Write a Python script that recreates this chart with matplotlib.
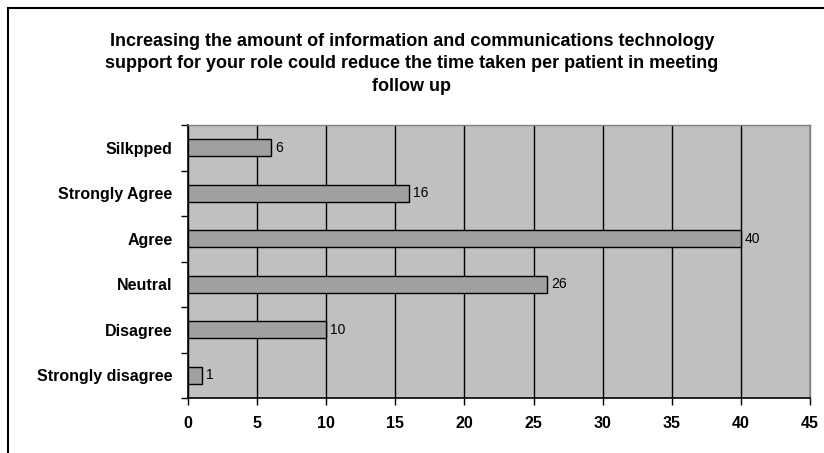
from matplotlib import pyplot as plt
from matplotlib.patches import Rectangle
import numpy as np

categories = ["Strongly disagree", "Disagree", "Neutral", "Agree", "Strongly Agree", "Silkpped"]
counts = [1, 10, 26, 40, 16, 6]
x_ticks = [0, 5, 10, 15, 20, 25, 30, 35, 40, 45]
title = ("Increasing the amount of information and communications technology\n"
         "support for your role could reduce the time taken per patient in meeting\n"
         "follow up")

plt.rcParams['font.family'] = ['Liberation Sans', 'DejaVu Sans']

W, H = 824, 453
fig = plt.figure(figsize=(W / 100, H / 100), dpi=100)

# outer chart frame (runs off the right and bottom edge)
fig.patches.append(Rectangle((8 / W, -0.1), 1.2, 1 - 8.5 / H + 0.1, transform=fig.transFigure,
                             fill=False, edgecolor="black", linewidth=1.5))

left, right, top, bottom = 188, 810, 125, 398
ax = fig.add_axes([left / W, 1 - bottom / H, (right - left) / W, (bottom - top) / H])
ax.set_facecolor("#C0C0C0")

y = np.arange(len(categories))
ax.barh(y, counts, height=0.38, color="#A0A0A0", edgecolor="black", linewidth=1.0, zorder=3)
for yi, v in zip(y, counts):
    ax.text(v + 0.3, yi, str(v), va="center", ha="left", fontsize=10, zorder=4)

ax.set_xlim(0, 45)
ax.set_ylim(-0.5, len(categories) - 0.5)
ax.set_xticks(x_ticks)
ax.set_xticklabels([str(t) for t in x_ticks], fontweight="bold", fontsize=11.5)
ax.xaxis.grid(True, color="black", linewidth=1.0, zorder=1)
ax.set_axisbelow(True)

ax.set_yticks(y)
ax.set_yticklabels(categories, fontweight="bold", fontsize=11.5)
ax.tick_params(axis="y", length=0, pad=11)
ax.set_yticks(np.arange(-0.5, len(categories)), minor=True)
ax.tick_params(axis="y", which="minor", length=5, width=1, direction="out")
ax.tick_params(axis="x", length=5, width=1, direction="out", pad=8)

for s in ["top", "right"]:
    ax.spines[s].set_color("#808080")
    ax.spines[s].set_linewidth(1.0)
for s in ["left", "bottom"]:
    ax.spines[s].set_color("black")
    ax.spines[s].set_linewidth(1.2)

fig.text(0.5, 1 - 33 / H, title, ha="center", va="top", fontsize=13, fontweight="bold",
         linespacing=1.42)

plt.savefig("out.png", dpi=100)
plt.close()
